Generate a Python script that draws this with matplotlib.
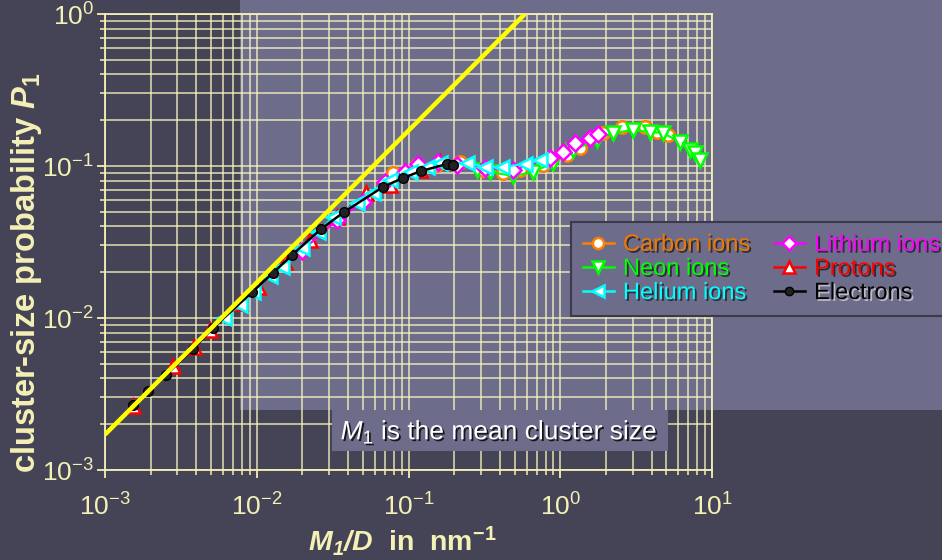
import numpy as np
import matplotlib
matplotlib.use("Agg")
import matplotlib.pyplot as plt
from matplotlib.lines import Line2D
from matplotlib.patches import Rectangle
from matplotlib.ticker import LogLocator, FuncFormatter, NullFormatter
import matplotlib.patheffects as pe

plt.rcParams['font.family'] = ['Liberation Sans', 'DejaVu Sans']
plt.rcParams['mathtext.fontset'] = 'custom'
plt.rcParams['mathtext.rm'] = 'Liberation Sans'
plt.rcParams['mathtext.it'] = 'Liberation Sans:italic'
plt.rcParams['mathtext.bf'] = 'Liberation Sans:bold'
plt.rcParams['mathtext.bfit'] = 'Liberation Sans:italic:bold'

# ---------------- data ----------------
line_x = [1e-3, 0.585]
line_y = [1.71e-3, 1.0]

electrons_x = [0.00153, 0.00192, 0.00252, 0.0038, 0.00515, 0.00931, 0.0128, 0.0171,
               0.0265, 0.0376, 0.0679, 0.092, 0.121, 0.180, 0.197]
electrons_y = [0.00268, 0.00331, 0.00422, 0.00625, 0.0086, 0.0148, 0.0198, 0.0260,
               0.0385, 0.0498, 0.0728, 0.0834, 0.0927, 0.1031, 0.1015]

protons_x = [0.00153, 0.00281, 0.00386, 0.00492, 0.00776, 0.0102, 0.0153, 0.0224,
             0.0338, 0.0525, 0.0755, 0.119, 0.1613]
protons_y = [0.00264, 0.00483, 0.00644, 0.00834, 0.01256, 0.0160, 0.0233, 0.0326,
             0.0462, 0.0664, 0.0750, 0.0941, 0.1063]

helium_x = [0.00608, 0.00776, 0.00944, 0.0122, 0.0147, 0.0199, 0.0254, 0.0318, 0.0458,
            0.0583, 0.0755, 0.1023, 0.1324, 0.1613, 0.2428, 0.319, 0.413, 0.586, 0.736]
helium_y = [0.0100, 0.0122, 0.0148, 0.0189, 0.0217, 0.0289, 0.0368, 0.0462, 0.0571,
            0.0664, 0.0809, 0.0913, 0.0985, 0.1047, 0.1047, 0.0985, 0.0985, 0.1031, 0.1095]

lithium_x = [0.0199, 0.0338, 0.0501, 0.070, 0.0948, 0.1156, 0.1564, 0.2089, 0.319,
             0.489, 0.855, 1.042, 1.250, 1.570, 1.774]
lithium_y = [0.0278, 0.0441, 0.0579, 0.0785, 0.0913, 0.1031, 0.1063, 0.1015, 0.097,
             0.0941, 0.1129, 0.1236, 0.1417, 0.1528, 0.1625]

carbon_x = [0.0791, 0.1138, 0.1542, 0.2183, 0.3097, 0.420, 0.543, 0.770, 1.107,
            1.349, 1.914, 2.553, 3.62, 4.34, 5.13]
carbon_y = [0.0899, 0.1015, 0.1015, 0.1063, 0.0941, 0.0899, 0.0941, 0.1015, 0.1181,
            0.1313, 0.1648, 0.1806, 0.1806, 0.1674, 0.160]

neon_x = [0.2826, 0.344, 0.489, 0.661, 0.896, 1.213, 1.746, 2.228, 3.015, 3.90,
          4.75, 6.15, 7.16, 7.73, 8.34]
neon_y = [0.0941, 0.0913, 0.0860, 0.0913, 0.1047, 0.1274, 0.1483, 0.1648, 0.1725,
          0.1674, 0.1648, 0.1439, 0.1274, 0.1218, 0.1095]

labels = ["Carbon ions", "Neon ions", "Helium ions", "Lithium ions", "Protons", "Electrons"]

# ---------------- style ----------------
BG_DARK = '#454456'
BG_LIGHT = '#6d6d8b'
FG = '#f4f0b6'
GRID = '#f4f1bc'

W, H = 942, 560
fig = plt.figure(figsize=(W / 100, H / 100), dpi=100, facecolor=BG_DARK)

# lighter panel behind the plot
fig.patches.append(Rectangle((240 / W, 1 - 410 / H), 1 - 240 / W, 410 / H,
                             transform=fig.transFigure, facecolor=BG_LIGHT,
                             edgecolor='none', zorder=-5))

ax = fig.add_axes([105 / W, 1 - 470 / H, (712 - 105) / W, (470 - 14) / H])
ax.set_facecolor('none')
ax.set_xscale('log')
ax.set_yscale('log')
ax.set_xlim(1e-3, 1e1)
ax.set_ylim(1e-3, 1e0)

ax.grid(True, which='both', color=GRID, lw=1.1, alpha=0.9, zorder=0)
ax.set_axisbelow(True)
for s in ax.spines.values():
    s.set_color(FG)
    s.set_linewidth(1.3)

ax.xaxis.set_major_locator(LogLocator(base=10, numticks=10))
ax.yaxis.set_major_locator(LogLocator(base=10, numticks=10))
ax.xaxis.set_minor_locator(LogLocator(base=10, subs=np.arange(2, 10), numticks=20))
ax.yaxis.set_minor_locator(LogLocator(base=10, subs=np.arange(2, 10), numticks=20))
fmt = FuncFormatter(lambda v, p: r'$\mathregular{10^{%d}}$' % int(round(np.log10(v))))
ax.xaxis.set_major_formatter(fmt)
ax.yaxis.set_major_formatter(fmt)
ax.xaxis.set_minor_formatter(NullFormatter())
ax.yaxis.set_minor_formatter(NullFormatter())
ax.tick_params(which='major', direction='out', length=6, width=1.3, color=FG,
               labelcolor=FG, labelsize=19)
ax.tick_params(axis='x', which='major', pad=11)
ax.tick_params(axis='y', which='major', pad=2)
ax.tick_params(which='minor', direction='out', length=3.5, width=1.1, color=FG)

mk = dict(markersize=10, markeredgewidth=1.8, markerfacecolor='white', lw=1.5)
ax.plot(protons_x, protons_y, color='#ff0000', marker='^', zorder=3, **mk)
ax.plot(carbon_x, carbon_y, color='#ff8000', marker='o', zorder=4,
        **{**mk, 'markersize': 9})
ax.plot(neon_x, neon_y, color='#00ff00', marker='v', zorder=5, **mk)
ax.plot(lithium_x, lithium_y, color='#ff00ff', marker='D', zorder=6,
        **{**mk, 'markersize': 8})
ax.plot(helium_x, helium_y, color='#00ffff', marker='<', zorder=7, **mk)
ax.plot(electrons_x, electrons_y, color='black', marker='o', markersize=7,
        markerfacecolor='#222222', markeredgecolor='black', lw=1.8, zorder=8)
ax.plot(line_x, line_y, color='#ffff00', lw=3.2, zorder=9, solid_capstyle='butt')

fig.text(402 / W, 1 - 551 / H,
         r'$\mathbfit{M}_{\mathbfit{1}}\mathbfit{/D}$  in  nm$^{\mathbf{-1}}$',
         ha='center', va='baseline', fontsize=20.5, fontweight='bold', color=FG)
fig.text(27 / W, 1 - 273 / H, r'cluster-size probability $\mathbfit{P}_{\mathbf{1}}$',
         ha='center', va='center', rotation=90, fontsize=23.5, fontweight='bold', color=FG)

# legend
handles = [
    Line2D([], [], color='#ff8000', marker='o', markersize=8, markerfacecolor='white', markeredgewidth=1.8, lw=1.8),
    Line2D([], [], color='#00ff00', marker='v', markersize=9, markerfacecolor='white', markeredgewidth=1.8, lw=1.8),
    Line2D([], [], color='#00ffff', marker='<', markersize=9, markerfacecolor='white', markeredgewidth=1.8, lw=1.8),
    Line2D([], [], color='#ff00ff', marker='D', markersize=7, markerfacecolor='white', markeredgewidth=1.8, lw=1.8),
    Line2D([], [], color='#ff0000', marker='^', markersize=9, markerfacecolor='white', markeredgewidth=1.8, lw=1.8),
    Line2D([], [], color='black', marker='o', markersize=6, markerfacecolor='#222222', lw=1.8),
]
text_colors = ['#f07800', '#00ff00', '#00ffff', '#ff00ff', '#ff0000', 'black']
leg = fig.legend(handles, labels, loc='upper left',
                 bbox_to_anchor=(571 / W, 1 - 222 / H), ncol=2,
                 fontsize=17, frameon=True, fancybox=False,
                 facecolor=BG_LIGHT, edgecolor='#3a3a4a', framealpha=1,
                 handlelength=1.3, handletextpad=0.4, labelspacing=0.09,
                 columnspacing=1.0, borderpad=0.5, borderaxespad=0)
leg.get_frame().set_linewidth(1.5)
for t, c in zip(leg.get_texts(), text_colors):
    t.set_color(c)
    shadow = '#111111' if c != 'black' else '#dddddd'
    t.set_path_effects([pe.SimplePatchShadow(offset=(1.3, -1.3), shadow_rgbFace=shadow, alpha=0.7),
                        pe.Normal()])

# annotation box
fig.patches.append(Rectangle((332 / W, 1 - 451 / H), (668 - 332) / W, 41 / H,
                             transform=fig.transFigure, facecolor=BG_LIGHT,
                             edgecolor='none', zorder=2))
fig.text(499 / W, 1 - 432 / H, r'$\mathit{M}_{1}$ is the mean cluster size',
         ha='center', va='center', fontsize=19, color='white', zorder=3,
         path_effects=[pe.SimplePatchShadow(offset=(1.3, -1.3), shadow_rgbFace='black', alpha=0.8),
                       pe.Normal()])

fig.savefig('out.png', dpi=100, facecolor=fig.get_facecolor())
